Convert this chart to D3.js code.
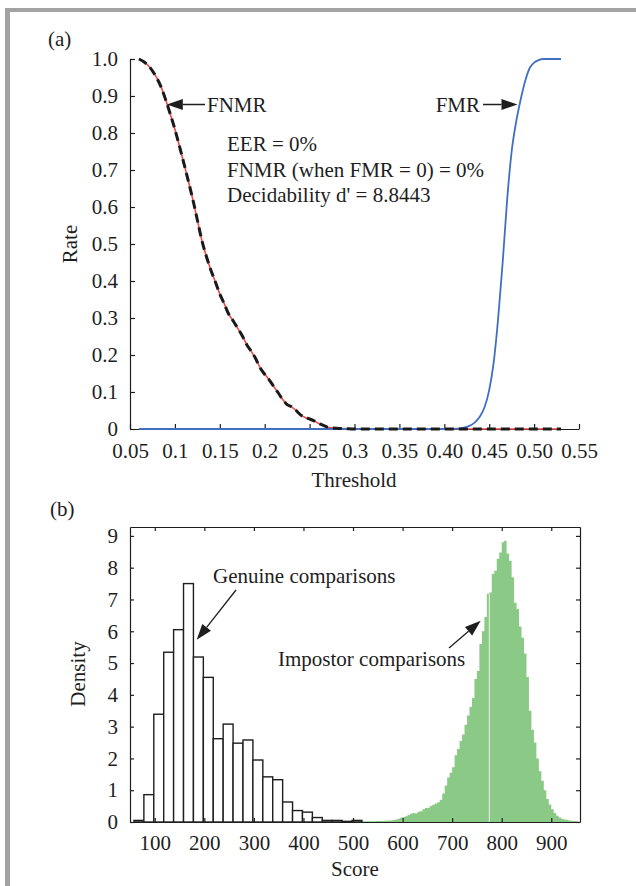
<!DOCTYPE html>
<html>
<head>
<meta charset="utf-8">
<script src="https://cdn.jsdelivr.net/npm/d3@7"></script>
<style>
body { margin: 0; background: #fff; }
text { font-family: "Liberation Serif", "Times New Roman", serif; fill: #1e1e1e; }
.axis text { font-size: 21px; fill: #1e1e1e; }
.axis path, .axis line { stroke: #1e1e1e; stroke-width: 1.2; }
</style>
</head>
<body>
<div id="chart"></div>
<script>
// ---- panel (a) data ----
var fnmrT    = [0.060,0.065,0.070,0.075,0.080,0.085,0.090,0.095,0.100,0.105,0.110,0.115,0.120,0.125,0.130,0.135,0.140,0.145,0.150,0.155,0.160,0.165,0.170,0.175,0.180,0.185,0.190,0.195,0.200,0.205,0.210,0.215,0.220,0.225,0.230,0.235,0.240,0.245,0.250,0.255,0.260,0.265,0.270,0.275,0.280,0.290,0.300,0.530];
var fnmrRate = [1.000,0.993,0.983,0.968,0.948,0.922,0.888,0.850,0.810,0.765,0.718,0.670,0.620,0.565,0.510,0.467,0.430,0.398,0.365,0.338,0.310,0.292,0.272,0.252,0.228,0.210,0.190,0.165,0.148,0.133,0.115,0.098,0.080,0.066,0.060,0.050,0.038,0.031,0.027,0.022,0.015,0.010,0.005,0.003,0.002,0.001,0,0];
var fmrT     = [0.060,0.400,0.415,0.420,0.425,0.430,0.435,0.440,0.445,0.450,0.455,0.460,0.465,0.470,0.475,0.480,0.485,0.490,0.495,0.500,0.505,0.510,0.530];
var fmrRate  = [0,0,0.001,0.003,0.006,0.011,0.020,0.035,0.060,0.105,0.180,0.300,0.450,0.620,0.750,0.830,0.890,0.940,0.975,0.990,0.997,1.000,1.000];
var xTicksA  = [0.05,0.1,0.15,0.2,0.25,0.3,0.35,0.40,0.45,0.50,0.55];
var xLabelsA = ["0.05","0.1","0.15","0.2","0.25","0.3","0.35","0.40","0.45","0.50","0.55"];
var yTicksA  = [0,0.1,0.2,0.3,0.4,0.5,0.6,0.7,0.8,0.9,1.0];
var yLabelsA = ["0","0.1","0.2","0.3","0.4","0.5","0.6","0.7","0.8","0.9","1.0"];
var statsText = ["EER = 0%", "FNMR (when FMR = 0) = 0%", "Decidability d' = 8.8443"];

// ---- panel (b) data ----
var genuineBins    = [58,78,98,118,138,158,178,198,218,238,258,278,298,318,338,358,378,398,418,438,458,478,498];
var genuineDensity = [0.05,0.86,3.39,5.34,6.05,7.50,5.19,4.55,2.62,3.08,2.48,2.58,1.95,1.42,1.33,0.63,0.36,0.31,0.14,0.05,0.05,0.02,0.05];
var genuineWidth = 20;
var impostorBins = d3.range(515, 955, 5);
var impostorDensity = [
  0.02,0.02,0.02,0.02,0.02,0.02,0.03,0.03,0.03,0.04,
  0.04,0.05,0.05,0.06,0.08,0.10,0.13,0.16,0.18,0.22,
  0.26,0.28,0.27,0.32,0.34,0.40,0.44,0.45,0.50,0.54,
  0.58,0.62,0.70,0.90,1.15,1.40,1.55,1.72,2.10,2.30,
  2.55,2.75,3.05,3.35,3.62,3.90,4.50,4.75,5.60,6.00,
  6.45,7.18,7.22,7.80,7.90,8.28,8.48,8.80,8.85,8.45,
  8.22,7.70,6.90,6.70,6.15,5.80,5.30,4.56,3.50,2.90,
  2.50,2.00,1.60,1.30,1.00,0.72,0.55,0.40,0.28,0.20,
  0.14,0.10,0.08,0.07,0.05,0.04,0.03,0.02];
var impostorWidth = 5;
var impostorGap = 775;
var xTicksB = [100,200,300,400,500,600,700,800,900];
var yTicksB = [0,1,2,3,4,5,6,7,8,9];

var wd = 636, ht = 886;
var svg = d3.select("#chart").append("svg").attr("width", wd).attr("height", ht);

// page frame
svg.append("rect").attr("x", 5).attr("y", 8).attr("width", wd - 5).attr("height", 4).attr("fill", "#a3a3a3");
svg.append("rect").attr("x", 5).attr("y", 8).attr("width", 5).attr("height", ht - 8).attr("fill", "#a3a3a3");

function arrow(g, x0, y0, x1, y1) {
  var ang = Math.atan2(y1 - y0, x1 - x0), len = 16, hw = 5.5;
  var bx = x1 - len * Math.cos(ang), by = y1 - len * Math.sin(ang);
  g.append("line").attr("x1", x0).attr("y1", y0).attr("x2", bx).attr("y2", by)
    .attr("stroke", "#1e1e1e").attr("stroke-width", 1.3);
  var px = -Math.sin(ang) * hw, py = Math.cos(ang) * hw;
  g.append("path").attr("d", "M" + x1 + "," + y1 + "L" + (bx + px) + "," + (by + py) + "L" + (bx - px) + "," + (by - py) + "Z")
    .attr("fill", "#1e1e1e");
}

// ================= panel (a) =================
var xA = d3.scaleLinear().domain([0.05, 0.55]).range([130, 579]);
var yA = d3.scaleLinear().domain([0, 1]).range([429, 59]);

svg.append("text").attr("x", 48).attr("y", 46).style("font-size", "21px").text("(a)");

svg.append("g").attr("class", "axis").attr("transform", "translate(0,429)")
  .call(d3.axisBottom(xA).tickValues(xTicksA).tickSize(-5).tickSizeOuter(0).tickPadding(14)
    .tickFormat(function(d, i) { return xLabelsA[i]; }));
svg.append("g").attr("class", "axis").attr("transform", "translate(130,0)")
  .call(d3.axisLeft(yA).tickValues(yTicksA).tickSize(-5).tickSizeOuter(0).tickPadding(12)
    .tickFormat(function(d, i) { return yLabelsA[i]; }));

var fnmrPts = fnmrT.map(function(t, i) { return [t, fnmrRate[i]]; });
var fmrPts = fmrT.map(function(t, i) { return [t, fmrRate[i]]; });
var lineA = d3.line().x(function(d) { return xA(d[0]); }).y(function(d) { return yA(d[1]); }).curve(d3.curveMonotoneX);

svg.append("path").datum(fnmrPts).attr("d", lineA).attr("fill", "none").attr("stroke", "#ec4a45").attr("stroke-width", 1.6);
svg.append("path").datum(fmrPts).attr("d", lineA).attr("fill", "none").attr("stroke", "#416fc4").attr("stroke-width", 1.8);
svg.append("path").datum(fnmrPts).attr("d", lineA).attr("fill", "none").attr("stroke", "#1a1a1a").attr("stroke-width", 3)
  .attr("stroke-dasharray", "9,5");

var annA = svg.append("g");
arrow(annA, 205, 104.5, xA(0.091), yA(0.877));
annA.append("text").attr("x", 207).attr("y", 112).style("font-size", "21px").text("FNMR");
arrow(annA, 483, 104.5, xA(0.4815), yA(0.877));
annA.append("text").attr("x", 480).attr("y", 112).attr("text-anchor", "end").style("font-size", "21px").text("FMR");

svg.append("g").selectAll("text").data(statsText).enter().append("text")
  .attr("x", 227).attr("y", function(d, i) { return 151 + i * 25.5; })
  .style("font-size", "21px").text(function(d) { return d; });

svg.append("text").attr("x", 354).attr("y", 487).attr("text-anchor", "middle").style("font-size", "21px").text("Threshold");
svg.append("text").attr("transform", "translate(77,244) rotate(-90)").attr("text-anchor", "middle").style("font-size", "21px").text("Rate");

// ================= panel (b) =================
var xB = d3.scaleLinear().domain([50, 958]).range([130, 580]);
var yB = d3.scaleLinear().domain([0, 9.28]).range([822, 527]);

svg.append("text").attr("x", 50).attr("y", 516).style("font-size", "21px").text("(b)");

var impPts = impostorBins.map(function(b, i) { return [b, impostorDensity[i]]; });
impPts.push([impostorBins[impostorBins.length - 1] + impostorWidth, impostorDensity[impostorDensity.length - 1]]);
svg.append("path").datum(impPts)
  .attr("d", d3.area().x(function(d) { return xB(d[0]); }).y0(yB(0)).y1(function(d) { return yB(d[1]); }).curve(d3.curveStepAfter))
  .attr("fill", "#8bc987");
var gapIdx = impostorBins.indexOf(impostorGap);
svg.append("line").attr("x1", xB(impostorGap)).attr("x2", xB(impostorGap))
  .attr("y1", yB(0)).attr("y2", yB(impostorDensity[gapIdx - 1]))
  .attr("stroke", "#e8f4e6").attr("stroke-width", 1);

svg.append("g").selectAll("rect").data(genuineBins).enter().append("rect")
  .attr("x", function(d) { return xB(d); })
  .attr("width", function(d) { return xB(d + genuineWidth) - xB(d); })
  .attr("y", function(d, i) { return yB(genuineDensity[i]); })
  .attr("height", function(d, i) { return yB(0) - yB(genuineDensity[i]); })
  .attr("fill", "#fff").attr("stroke", "#1e1e1e").attr("stroke-width", 1.4);

svg.append("g").attr("class", "axis").attr("transform", "translate(0,822)")
  .call(d3.axisBottom(xB).tickValues(xTicksB).tickSize(-4).tickSizeOuter(0).tickPadding(13));
svg.append("g").attr("class", "axis").attr("transform", "translate(0,527)")
  .call(d3.axisTop(xB).tickValues(xTicksB).tickSize(-4).tickSizeOuter(0).tickFormat(""));
svg.append("g").attr("class", "axis").attr("transform", "translate(130,0)")
  .call(d3.axisLeft(yB).tickValues(yTicksB).tickSize(-4).tickSizeOuter(0).tickPadding(12));
svg.append("g").attr("class", "axis").attr("transform", "translate(580,0)")
  .call(d3.axisRight(yB).tickValues(yTicksB).tickSize(-4).tickSizeOuter(0).tickFormat(""));

var annB = svg.append("g");
annB.append("text").attr("x", 213).attr("y", 583).style("font-size", "21px").text("Genuine comparisons");
arrow(annB, 236, 590, xB(184.6), yB(5.73));
annB.append("text").attr("x", 278).attr("y", 666).style("font-size", "21px").text("Impostor comparisons");
arrow(annB, 449, 648, xB(757.6), yB(6.33));

svg.append("text").attr("x", 355).attr("y", 876).attr("text-anchor", "middle").style("font-size", "21px").text("Score");
svg.append("text").attr("transform", "translate(85,674) rotate(-90)").attr("text-anchor", "middle").style("font-size", "21px").text("Density");
</script>
</body>
</html>
